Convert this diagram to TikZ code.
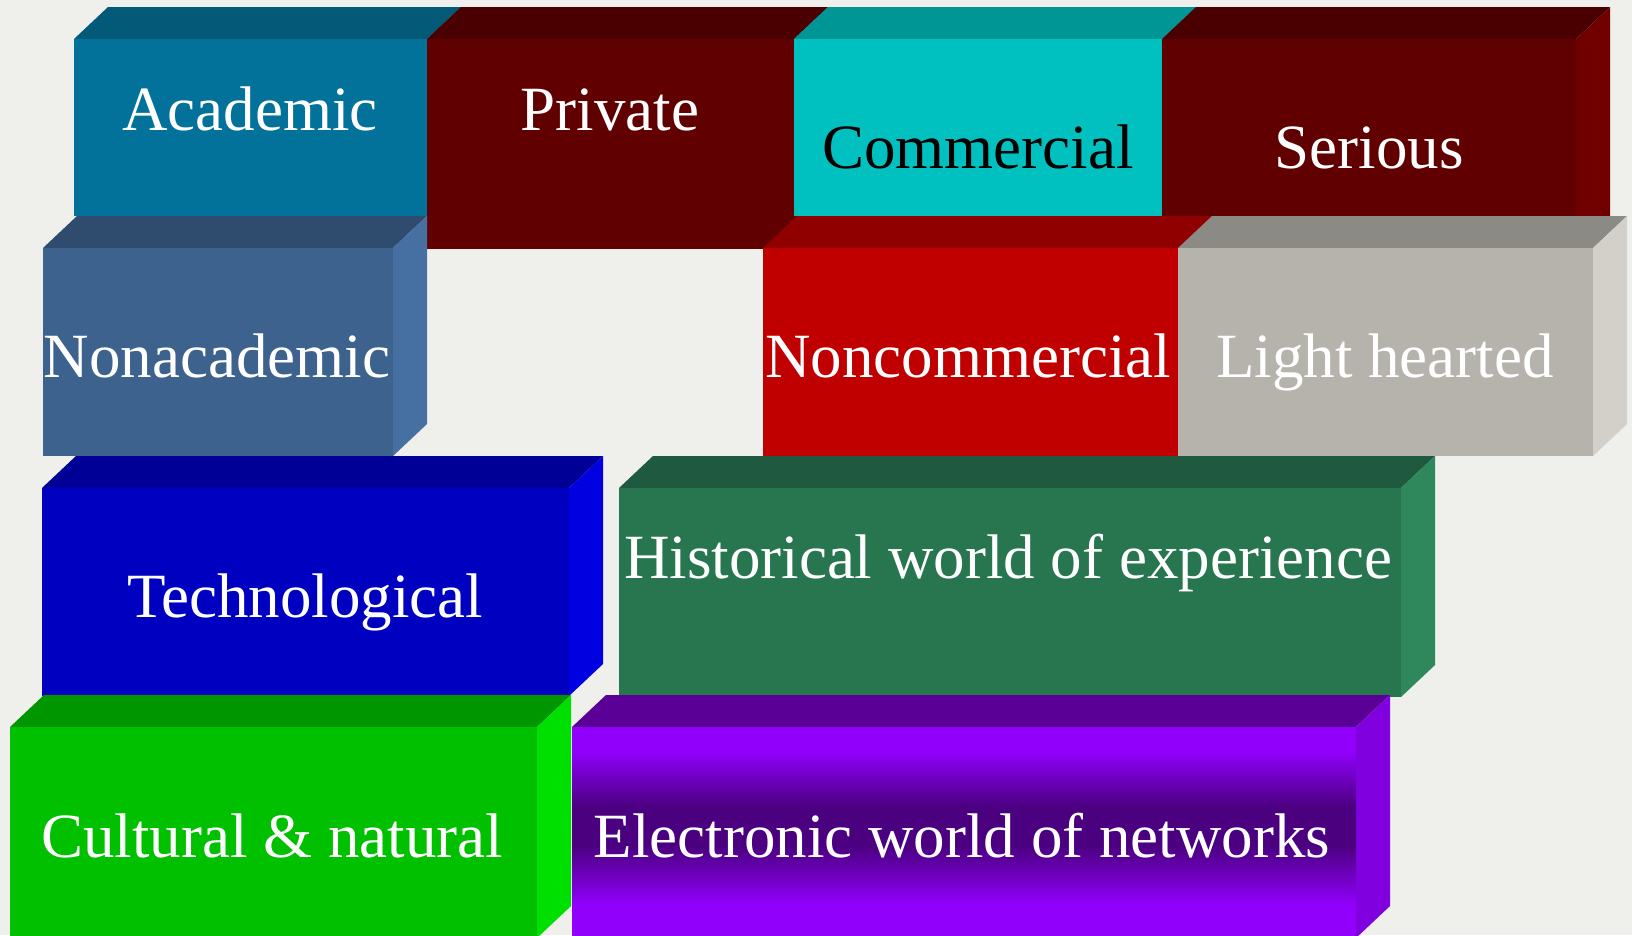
\documentclass[tikz,border=0pt]{standalone}
\usepackage{fontspec}
\setmainfont{Liberation Serif}
\definecolor{bg}{HTML}{EFEFEB}
\definecolor{acF}{HTML}{02729A}\definecolor{acT}{HTML}{035A78}
\definecolor{prF}{HTML}{600000}\definecolor{prT}{HTML}{4A0000}\definecolor{prS}{HTML}{700000}
\definecolor{coF}{HTML}{00C0C0}\definecolor{coT}{HTML}{009696}
\definecolor{naF}{HTML}{3E628E}\definecolor{naT}{HTML}{2F4C6E}\definecolor{naS}{HTML}{4670A2}
\definecolor{ncF}{HTML}{C00000}\definecolor{ncT}{HTML}{900000}
\definecolor{lhF}{HTML}{B6B3AC}\definecolor{lhT}{HTML}{8C8A84}\definecolor{lhS}{HTML}{D2D0C8}
\definecolor{teF}{HTML}{0000C0}\definecolor{teT}{HTML}{000096}\definecolor{teS}{HTML}{0000E0}
\definecolor{hiF}{HTML}{287650}\definecolor{hiT}{HTML}{1F5A40}\definecolor{hiS}{HTML}{2E885C}
\definecolor{cuF}{HTML}{00C000}\definecolor{cuT}{HTML}{009600}\definecolor{cuS}{HTML}{00E000}
\definecolor{elA}{HTML}{9000FA}\definecolor{elB}{HTML}{4B0080}\definecolor{elT}{HTML}{5A0096}\definecolor{elS}{HTML}{8000E0}
\pgfdeclareverticalshading{elshade}{100bp}{color(0bp)=(elA); color(25bp)=(elA); color(33bp)=(elA); color(47bp)=(elB); color(56bp)=(elB); color(69bp)=(elA); color(75bp)=(elA); color(100bp)=(elA)}
% #1,#2 front top-left; #3,#4 front bottom-right; #5 front style; #6 top colour; #7 side colour
\newcommand\drawcuboid[7]{%
  \fill[#6] (#1,#2) -- ++(34,-32) -- ({#3+34},{#2-32}) -- (#3,#2) -- cycle;
  \fill[#7] (#3,#2) -- ++(34,-32) -- ({#3+34},{#4-32}) -- (#3,#4) -- cycle;
  \fill[#5] (#1,#2) rectangle (#3,#4);
}
\tikzset{lbl/.style={text=white, font=\fontsize{63}{70}\selectfont, inner sep=0pt, anchor=base}}
\begin{document}
\begin{tikzpicture}[x=1pt,y=-1pt]
\useasboundingbox (0,0) rectangle (1632,935);
\fill[bg] (0,0) rectangle (1632,935);
\clip (0,0) rectangle (1632,935);
% row 1
\drawcuboid{74}{39}{427}{216}{acF}{acT}{acT}
\node[lbl] (academic) at (250,130) {Academic};
\drawcuboid{427}{39}{794}{249}{prF}{prT}{prS}
\node[lbl] (private) at (610,130) {Private};
\drawcuboid{794}{39}{1162}{216}{coF}{coT}{coT}
\node[lbl, text=black] (commercial) at (978,168) {Commercial};
\drawcuboid{1162}{39}{1576}{248}{prF}{prT}{prS}
\node[lbl] (serious) at (1369,168) {Serious};
% row 2
\drawcuboid{43}{248}{393}{456}{naF}{naT}{naS}
\node[lbl] (nonacademic) at (217,377) {Nonacademic};
\drawcuboid{763}{248}{1178}{456}{ncF}{ncT}{ncT}
\node[lbl] (noncommercial) at (968,377) {Noncommercial};
\drawcuboid{1178}{248}{1593}{456}{lhF}{lhT}{lhS}
\node[lbl] (light) at (1385,377) {Light hearted};
% row 3
\drawcuboid{42}{488}{569}{696}{teF}{teT}{teS}
\node[lbl] (techno) at (305,617) {Technological};
\drawcuboid{619}{488}{1401}{697}{hiF}{hiT}{hiS}
\node[lbl] (historical) at (1008,578) {Historical world of experience};
% row 4
\drawcuboid{10}{727}{537}{938}{cuF}{cuT}{cuS}
\node[lbl] (cultural) at (272,857) {Cultural \& natural};
\drawcuboid{572}{727}{1356}{938}{shade,shading=elshade}{elT}{elS}
\node[lbl] (electronic) at (962,857) {Electronic world of networks};
\end{tikzpicture}
\end{document}
